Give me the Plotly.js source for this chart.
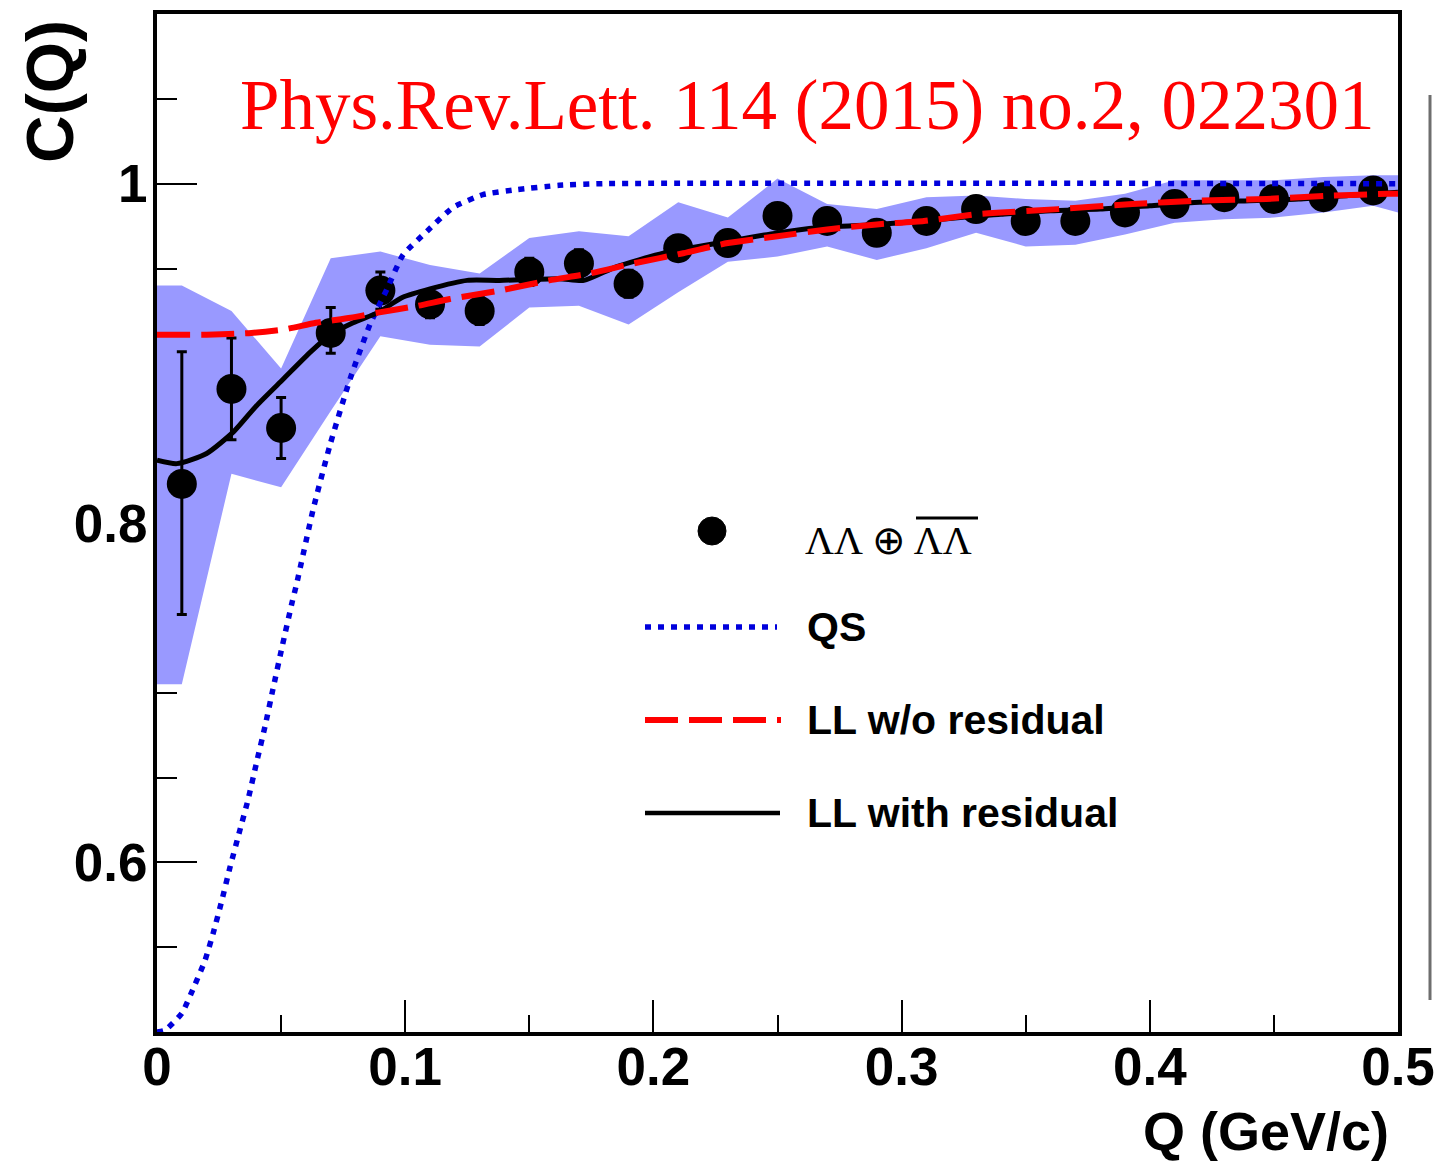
<!DOCTYPE html>
<html>
<head>
<meta charset="utf-8">
<script src="https://cdn.plot.ly/plotly-3.0.1.min.js"></script>
<style>
html,body{margin:0;padding:0;background:#fff;}
#chart{width:1434px;height:1165px;}
</style>
</head>
<body>
<div id="chart"></div>
<script>
// ---- data: measured correlation function C(Q) ----
const Q = [0.01,0.03,0.05,0.07,0.09,0.11,0.13,0.15,0.17,0.19,0.21,0.23,0.25,0.27,0.29,0.31,0.33,0.35,0.37,0.39,0.41,0.43,0.45,0.47,0.49];
const C = [0.823,0.879,0.856,0.912,0.937,0.929,0.925,0.948,0.953,0.941,0.962,0.965,0.981,0.978,0.971,0.978,0.985,0.978,0.978,0.983,0.988,0.992,0.991,0.992,0.996];
const statUp   = [0.078,0.030,0.018,0.015,0.011,0.008,0.008,0.008,0.008,0.008,0.007,0.007,0.007,0.007,0.007,0.006,0.006,0.006,0.006,0.006,0.006,0.006,0.006,0.006,0.006];
const statDown = [0.077,0.030,0.018,0.012,0.011,0.008,0.008,0.008,0.008,0.008,0.007,0.007,0.007,0.007,0.007,0.006,0.006,0.006,0.006,0.006,0.006,0.006,0.006,0.006,0.006];

// ---- systematic band ----
const sysQ    = [0,0.01,0.03,0.05,0.07,0.09,0.11,0.13,0.15,0.17,0.19,0.21,0.23,0.25,0.27,0.29,0.31,0.33,0.35,0.37,0.39,0.41,0.43,0.45,0.47,0.49,0.5];
const sysHigh = [0.940,0.940,0.925,0.891,0.956,0.960,0.952,0.947,0.968,0.972,0.969,0.989,0.980,1.003,0.988,0.985,0.992,0.993,0.991,0.990,0.994,1.002,1.002,1.002,1.004,1.005,1.005];
const sysLow  = [0.705,0.705,0.829,0.821,0.866,0.910,0.905,0.904,0.927,0.928,0.917,0.936,0.954,0.957,0.963,0.955,0.962,0.971,0.963,0.964,0.970,0.977,0.979,0.980,0.983,0.987,0.983];

// ---- QS curve ----
const qsQ = [0,0.0032,0.010,0.0153,0.0193,0.0226,0.0262,0.0294,0.0334,0.0367,0.0403,0.0435,0.0467,0.0504,0.0544,0.0564,0.0629,0.0697,0.0778,0.0858,0.0927,0.0991,0.1088,0.1193,0.1313,0.145,0.162,0.18,0.5];
const qsC = [0.500,0.501,0.511,0.528,0.542,0.558,0.578,0.597,0.619,0.637,0.660,0.680,0.702,0.727,0.753,0.765,0.808,0.846,0.885,0.917,0.938,0.958,0.972,0.986,0.9935,0.9965,0.999,1.0,1.0];

// ---- LL without residual ----
const llNoResQ = [0,0.020,0.038,0.051,0.064,0.078,0.089,0.105,0.118,0.138,0.158,0.174,0.192,0.212,0.230,0.250,0.270,0.290,0.309,0.330,0.340,0.363,0.393,0.420,0.447,0.474,0.496,0.5];
const llNoResC = [0.911,0.911,0.912,0.914,0.918,0.921,0.924,0.928,0.932,0.937,0.943,0.947,0.953,0.959,0.965,0.969,0.973,0.976,0.978,0.982,0.983,0.985,0.988,0.990,0.991,0.993,0.994,0.994];

// ---- LL with residual ----
const llResQ = [0,0.008,0.020,0.031,0.040,0.051,0.062,0.070,0.079,0.089,0.099,0.110,0.125,0.138,0.162,0.172,0.185,0.204,0.230,0.250,0.266,0.290,0.309,0.330,0.340,0.36,0.38,0.40,0.42,0.44,0.46,0.48,0.5];
const llResC = [0.837,0.835,0.841,0.854,0.869,0.885,0.901,0.911,0.918,0.924,0.933,0.938,0.943,0.943,0.944,0.943,0.951,0.959,0.966,0.971,0.974,0.976,0.978,0.981,0.982,0.984,0.985,0.987,0.989,0.990,0.991,0.993,0.995];

// ---- axis ticks ----
const xTickVals = [0,0.1,0.2,0.3,0.4,0.5];
const xTickText = ['0','0.1','0.2','0.3','0.4','0.5'];
const yTickVals = [0.6,0.8,1.0];
const yTickText = ['0.6','0.8','1'];

// ---- texts ----
const legendLabels = ['\u039B\u039B \u2295 \u039B\u039B','QS','LL w/o residual','LL with residual'];
const refText = 'Phys.Rev.Lett. 114 (2015) no.2, 022301';
const xTitle = 'Q (GeV/c)';
const yTitle = 'C(Q)';

// pixel helpers for decorations (plot area: x 157..1398, y 14..1032)
const W = 1434, H = 1165, L = 157, R = 36, T = 14, B = 133;
const pw = W - L - R, ph = H - T - B;
const px = v => (v - L) / pw;
const py = v => (H - B - v) / ph;

const traces = [
  {
    x: sysQ.concat(sysQ.slice().reverse()),
    y: sysHigh.concat(sysLow.slice().reverse()),
    type: 'scatter', mode: 'lines', fill: 'toself',
    fillcolor: 'rgb(153,153,255)', line: {width: 0, color: 'rgb(153,153,255)'},
    hoverinfo: 'skip', showlegend: false
  },
  {
    x: Q, y: C, type: 'scatter', mode: 'markers',
    marker: {color: 'black', size: 30},
    error_y: {type: 'data', symmetric: false, array: statUp, arrayminus: statDown,
              color: 'black', thickness: 3, width: 5},
    showlegend: false
  },
  {
    x: qsQ, y: qsC, type: 'scatter', mode: 'lines',
    line: {color: 'rgb(0,0,220)', width: 5.5, dash: '6px,7px', shape: 'spline', smoothing: 0.5},
    showlegend: false
  },
  {
    x: llResQ, y: llResC, type: 'scatter', mode: 'lines',
    line: {color: 'black', width: 5, shape: 'spline', smoothing: 0.6},
    showlegend: false
  },
  {
    x: llNoResQ, y: llNoResC, type: 'scatter', mode: 'lines',
    line: {color: 'rgb(255,0,0)', width: 6, dash: '33px,11px', shape: 'spline', smoothing: 0.6},
    showlegend: false
  }
];

const tickFont = {family: 'Liberation Sans, Arial, sans-serif', size: 53, color: 'black', weight: 'bold'};
const legFont = {family: 'Liberation Sans, Arial, sans-serif', size: 41, color: 'black', weight: 'bold'};

const layout = {
  width: W, height: H,
  margin: {l: L, r: R, t: T, b: B},
  paper_bgcolor: 'white', plot_bgcolor: 'white',
  showlegend: false,
  xaxis: {
    range: [0, 0.5], tickmode: 'array', tickvals: xTickVals, ticktext: xTickText,
    ticks: 'inside', ticklen: 32, tickwidth: 2, tickcolor: 'black',
    minor: {dtick: 0.05, tick0: 0, ticks: 'inside', ticklen: 17, tickwidth: 2, tickcolor: 'black'},
    showline: true, linecolor: 'black', linewidth: 4, mirror: true,
    showgrid: false, zeroline: false, layer: 'below traces',
    tickfont: tickFont, ticklabeloverflow: 'allow', ticklabelstandoff: -15
  },
  yaxis: {
    range: [0.5, 1.1], tickmode: 'array', tickvals: yTickVals, ticktext: yTickText,
    ticks: 'inside', ticklen: 40, tickwidth: 2, tickcolor: 'black',
    minor: {dtick: 0.05, tick0: 0.5, ticks: 'inside', ticklen: 20, tickwidth: 2, tickcolor: 'black'},
    showline: true, linecolor: 'black', linewidth: 4, mirror: true,
    showgrid: false, zeroline: false, layer: 'below traces',
    tickfont: tickFont, ticklabeloverflow: 'allow', ticklabelstandoff: -5
  },
  annotations: [
    {text: refText, xref: 'paper', yref: 'paper', x: px(238), y: py(105), xanchor: 'left', yanchor: 'middle',
     showarrow: false, font: {family: 'Liberation Serif, Times New Roman, serif', size: 71, color: 'rgb(255,0,0)'}},
    {text: xTitle, xref: 'paper', yref: 'paper', x: px(1391), y: py(1131), xanchor: 'right', yanchor: 'middle',
     showarrow: false, font: {family: 'Liberation Sans, Arial, sans-serif', size: 54, color: 'black', weight: 'bold'}},
    {text: yTitle, xref: 'paper', yref: 'paper', x: px(50), y: py(92), xanchor: 'center', yanchor: 'middle', textangle: -90,
     showarrow: false, font: {family: 'Liberation Sans, Arial, sans-serif', size: 66, color: 'black', weight: 'bold'}},
    {text: legendLabels[0], xref: 'paper', yref: 'paper', x: px(803), y: py(540), xanchor: 'left', yanchor: 'middle',
     showarrow: false, font: {family: 'Liberation Serif, Times New Roman, serif', size: 40, color: 'black'}},
    {text: legendLabels[1], xref: 'paper', yref: 'paper', x: px(805), y: py(627), xanchor: 'left', yanchor: 'middle',
     showarrow: false, font: legFont},
    {text: legendLabels[2], xref: 'paper', yref: 'paper', x: px(805), y: py(720), xanchor: 'left', yanchor: 'middle',
     showarrow: false, font: legFont},
    {text: legendLabels[3], xref: 'paper', yref: 'paper', x: px(805), y: py(813), xanchor: 'left', yanchor: 'middle',
     showarrow: false, font: legFont}
  ],
  shapes: [
    // legend marker
    {type: 'circle', xref: 'paper', yref: 'paper', x0: px(698), x1: px(726), y0: py(545), y1: py(517),
     fillcolor: 'black', line: {color: 'black', width: 1}},
    // overline on anti-lambda pair
    {type: 'line', xref: 'paper', yref: 'paper', x0: px(916), x1: px(978), y0: py(518), y1: py(518),
     line: {color: 'black', width: 3}},
    // legend line samples
    {type: 'line', xref: 'paper', yref: 'paper', x0: px(645), x1: px(777), y0: py(627), y1: py(627),
     line: {color: 'rgb(0,0,220)', width: 5.5, dash: '6px,7px'}},
    {type: 'line', xref: 'paper', yref: 'paper', x0: px(645), x1: px(781), y0: py(720), y1: py(720),
     line: {color: 'rgb(255,0,0)', width: 6, dash: '33px,11px'}},
    {type: 'line', xref: 'paper', yref: 'paper', x0: px(645), x1: px(780), y0: py(813), y1: py(813),
     line: {color: 'black', width: 4.5}},
    // edge of neighbouring panel (grey sliver at right)
    {type: 'line', xref: 'paper', yref: 'paper', x0: px(1430), x1: px(1430), y0: py(95), y1: py(1000),
     line: {color: 'rgb(110,110,110)', width: 3}}
  ]
};

Plotly.newPlot('chart', traces, layout, {displayModeBar: false, staticPlot: true});
</script>
</body>
</html>
